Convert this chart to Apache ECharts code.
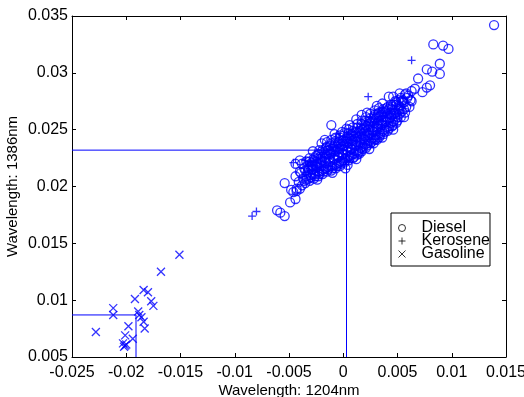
<!DOCTYPE html>
<html>
<head>
<meta charset="utf-8">
<script src="https://cdn.jsdelivr.net/npm/echarts@6/dist/echarts.min.js"></script>
<style>
  html, body { margin: 0; padding: 0; background: #fff; }
  #chart { width: 524px; height: 397px; }
</style>
</head>
<body>
<div id="chart"></div>
<script>
// Absorbance at 1204 nm (x) versus 1386 nm (y) for three fuel classes
const xTickLabels = ['-0.025', '-0.02', '-0.015', '-0.01', '-0.005', '0', '0.005', '0.01', '0.015'];
const yTickLabels = ['0.005', '0.01', '0.015', '0.02', '0.025', '0.03', '0.035'];
const seriesNames = ['Diesel', 'Kerosene', 'Gasoline'];

const dieselPoints = [
  [-0.0043,0.0198],[-0.0041,0.0204],[-0.0044,0.0209],[-0.0040,0.0213],
  [-0.0038,0.0201],[-0.0037,0.0207],[-0.0039,0.0212],[-0.0036,0.0216],[-0.0038,0.0220],
  [-0.0035,0.0203],[-0.0034,0.0209],[-0.0035,0.0214],[-0.0033,0.0218],[-0.0034,0.0222],
  [-0.0031,0.0205],[-0.0030,0.0210],[-0.0032,0.0214],[-0.0030,0.0217],[-0.0029,0.0221],[-0.0031,0.0225],
  [-0.0027,0.0207],[-0.0026,0.0211],[-0.0028,0.0215],[-0.0026,0.0219],[-0.0027,0.0223],[-0.0025,0.0227],
  [-0.0023,0.0209],[-0.0022,0.0213],[-0.0024,0.0217],[-0.0022,0.0220],[-0.0021,0.0224],[-0.0023,0.0228],[-0.0022,0.0232],
  [-0.0019,0.0211],[-0.0018,0.0215],[-0.0020,0.0218],[-0.0017,0.0222],[-0.0019,0.0226],[-0.0018,0.0230],[-0.0016,0.0234],
  [-0.0015,0.0213],[-0.0014,0.0217],[-0.0016,0.0221],[-0.0013,0.0224],[-0.0015,0.0228],[-0.0014,0.0232],[-0.0012,0.0236],[-0.0015,0.0239],
  [-0.0011,0.0214],[-0.0010,0.0218],[-0.0012,0.0222],[-0.0009,0.0225],[-0.0011,0.0229],[-0.0010,0.0233],[-0.0008,0.0237],[-0.0011,0.0241],
  [-0.0007,0.0216],[-0.0006,0.0220],[-0.0008,0.0224],[-0.0005,0.0227],[-0.0007,0.0231],[-0.0006,0.0235],[-0.0004,0.0239],[-0.0007,0.0243],
  [-0.0003,0.0218],[-0.0002,0.0222],[-0.0004,0.0226],[-0.0001,0.0229],[-0.0003,0.0233],[-0.0002,0.0237],[0.0000,0.0241],[-0.0003,0.0245],[-0.0001,0.0248],
  [0.0001,0.0221],[0.0002,0.0225],[0.0000,0.0228],[0.0003,0.0232],[0.0001,0.0236],[0.0002,0.0240],[0.0004,0.0244],[0.0001,0.0247],
  [0.0005,0.0223],[0.0006,0.0227],[0.0004,0.0231],[0.0007,0.0234],[0.0005,0.0238],[0.0006,0.0242],[0.0008,0.0246],[0.0005,0.0250],
  [0.0009,0.0225],[0.0010,0.0229],[0.0008,0.0233],[0.0011,0.0237],[0.0009,0.0240],[0.0010,0.0244],[0.0012,0.0248],[0.0009,0.0252],
  [0.0013,0.0228],[0.0014,0.0232],[0.0012,0.0236],[0.0015,0.0239],[0.0013,0.0243],[0.0014,0.0247],[0.0016,0.0251],[0.0013,0.0255],
  [0.0017,0.0231],[0.0018,0.0235],[0.0016,0.0238],[0.0019,0.0242],[0.0017,0.0246],[0.0018,0.0250],[0.0020,0.0254],[0.0017,0.0258],
  [0.0021,0.0234],[0.0022,0.0238],[0.0020,0.0241],[0.0023,0.0245],[0.0021,0.0249],[0.0022,0.0253],[0.0024,0.0257],[0.0021,0.0261],
  [0.0025,0.0238],[0.0026,0.0242],[0.0024,0.0245],[0.0027,0.0249],[0.0025,0.0253],[0.0026,0.0257],[0.0028,0.0261],[0.0025,0.0264],
  [0.0029,0.0241],[0.0030,0.0245],[0.0028,0.0248],[0.0031,0.0252],[0.0029,0.0256],[0.0030,0.0260],[0.0032,0.0264],[0.0029,0.0267],
  [0.0033,0.0243],[0.0034,0.0247],[0.0032,0.0251],[0.0035,0.0255],[0.0033,0.0258],[0.0034,0.0262],[0.0036,0.0266],[0.0033,0.0269],
  [0.0037,0.0246],[0.0038,0.0250],[0.0036,0.0254],[0.0039,0.0257],[0.0037,0.0261],[0.0038,0.0265],[0.0040,0.0269],
  [0.0041,0.0249],[0.0042,0.0253],[0.0040,0.0257],[0.0043,0.0260],[0.0041,0.0264],[0.0042,0.0268],[0.0044,0.0272],
  [0.0045,0.0253],[0.0046,0.0257],[0.0044,0.0261],[0.0047,0.0264],[0.0045,0.0268],[0.0046,0.0272],[0.0048,0.0275],
  [0.0049,0.0256],[0.0050,0.0261],[0.0048,0.0265],[0.0051,0.0268],[0.0049,0.0272],[0.0051,0.0276],
  [0.0053,0.0261],[0.0054,0.0266],[0.0052,0.0270],[0.0055,0.0274],[0.0053,0.0278],
  [0.0057,0.0265],[0.0058,0.0270],[0.0056,0.0274],[0.0059,0.0278],[0.0057,0.0281],
  [0.0061,0.0270],[0.0062,0.0276],[0.0060,0.0280],
  [-0.0036,0.0205],[-0.0032,0.0207],[-0.0028,0.0211],[-0.0024,0.0213],[-0.0020,0.0214],[-0.0016,0.0216],
  [-0.0012,0.0218],[-0.0008,0.0219],[-0.0004,0.0221],[0.0000,0.0223],[0.0004,0.0226],[0.0008,0.0228],
  [0.0012,0.0231],[0.0016,0.0234],[0.0020,0.0237],[0.0024,0.0240],[0.0028,0.0243],[0.0032,0.0246],
  [0.0036,0.0249],[0.0040,0.0252],[0.0044,0.0256],[0.0048,0.0259],[0.0052,0.0264],[0.0056,0.0268],
  [-0.0033,0.0212],[-0.0029,0.0215],[-0.0025,0.0218],[-0.0021,0.0221],[-0.0017,0.0225],[-0.0013,0.0228],
  [-0.0009,0.0231],[-0.0005,0.0233],[-0.0001,0.0235],[0.0003,0.0238],[0.0007,0.0240],[0.0011,0.0242],
  [0.0015,0.0244],[0.0019,0.0247],[0.0023,0.0250],[0.0027,0.0252],[0.0031,0.0255],[0.0035,0.0258],
  [0.0039,0.0261],[0.0043,0.0265],[0.0047,0.0267],[0.0051,0.0271],[0.0055,0.0276],
  [-0.0029,0.0219],[-0.0025,0.0222],[-0.0021,0.0226],[-0.0017,0.0229],[-0.0013,0.0232],[-0.0009,0.0235],
  [-0.0005,0.0238],[-0.0001,0.0240],[0.0003,0.0242],[0.0007,0.0245],[0.0011,0.0247],[0.0015,0.0249],
  [0.0019,0.0252],[0.0023,0.0255],[0.0027,0.0258],[0.0031,0.0261],[0.0035,0.0263],[0.0039,0.0266],
  [-0.0034,0.0206],[-0.0030,0.0208],[-0.0026,0.0209],[-0.0022,0.0211],[-0.0018,0.0213],[-0.0014,0.0215],
  [-0.0010,0.0216],[-0.0006,0.0218],[-0.0002,0.0220],[0.0002,0.0223],[0.0006,0.0225],[0.0010,0.0226],
  [0.0014,0.0230],[0.0018,0.0233],[0.0022,0.0236],[0.0026,0.0239],[0.0030,0.0242],[0.0034,0.0245],
  [0.0038,0.0248],[0.0042,0.0251],[0.0046,0.0254],[0.0050,0.0258],
  [-0.0031,0.0222],[-0.0027,0.0225],[-0.0023,0.0229],[-0.0019,0.0232],[-0.0015,0.0235],[-0.0011,0.0238],
  [-0.0007,0.0240],[-0.0003,0.0243],[0.0001,0.0245],[0.0005,0.0247],[0.0009,0.0249],[0.0013,0.0252],
  [0.0017,0.0255],[0.0021,0.0258],[0.0025,0.0260],[0.0029,0.0263],[0.0033,0.0265],[0.0037,0.0268],
  [0.0041,0.0270],[0.0045,0.0270],[0.0049,0.0274],
  [-0.0032,0.0216],[-0.0028,0.0218],[-0.0024,0.0220],[-0.0020,0.0223],[-0.0016,0.0226],[-0.0012,0.0230],
  [-0.0008,0.0227],[-0.0004,0.0230],[0.0000,0.0232],[0.0004,0.0235],[0.0008,0.0237],[0.0012,0.0239],
  [0.0016,0.0241],[0.0020,0.0244],[0.0024,0.0247],[0.0028,0.0250],[0.0032,0.0253],[0.0036,0.0256],
  [0.0040,0.0259],[0.0044,0.0263],[0.0048,0.0262],[0.0052,0.0267],
  [-0.0024,0.0206],[-0.0010,0.0212],[0.0002,0.0216],[0.0012,0.0224],[0.0024,0.0233],[0.0036,0.0243],
  [0.0046,0.0250],[0.0056,0.0261],[-0.0040,0.0223],[-0.0028,0.0231],[-0.0020,0.0238],[-0.0008,0.0246],
  [0.0006,0.0254],[0.0012,0.0259],[0.0022,0.0265],[0.0036,0.0273],[0.0046,0.0279],[0.0052,0.0282],
  [0.0139,0.0342],[0.0083,0.0325],[0.0092,0.0324],[0.0097,0.0321],[0.0089,0.0308],
  [0.0077,0.0303],[0.0082,0.0301],[0.0089,0.0299],[0.0069,0.0295],[0.0080,0.0289],
  [0.0077,0.0287],[0.0073,0.0283],[0.0066,0.0286],[0.0063,0.0284],[0.0058,0.0282],
  [0.0063,0.0275],[0.0054,0.0275],[0.0042,0.0279],[0.0031,0.0271],[-0.0011,0.0254],
  [-0.0054,0.0203],[-0.0044,0.0220],[-0.0017,0.0241],[0.0003,0.0251],[0.0017,0.0263],
  [0.0031,0.0241],[0.0028,0.0238],[0.0015,0.0229],[0.0004,0.0219],
  [-0.0061,0.0179],[-0.0058,0.0177],[-0.0054,0.0174],[-0.0049,0.0186],[-0.0044,0.0189],
  [-0.0046,0.0195],[-0.0043,0.0196],[-0.0048,0.0197],[-0.0040,0.0198]
];

const kerosenePoints = [
  [-0.0084,0.0174],[-0.0080,0.0178],[0.0063,0.0311],[0.0023,0.0279],
  [-0.0046,0.0221],[-0.0035,0.0223],[-0.0030,0.0222],[-0.0032,0.0219],
  [-0.0006,0.0246],[-0.0020,0.0228]
];

const gasolinePoints = [
  [-0.0228,0.0072],[-0.0212,0.0093],[-0.0212,0.0087],[-0.0192,0.0101],
  [-0.0201,0.0069],[-0.0198,0.0077],[-0.0203,0.0062],[-0.0201,0.0060],
  [-0.0202,0.0059],[-0.0200,0.0061],[-0.0194,0.0066],[-0.0189,0.0090],
  [-0.0188,0.0087],[-0.0186,0.0085],[-0.0184,0.0081],[-0.0183,0.0075],
  [-0.0184,0.0109],[-0.0180,0.0107],[-0.0177,0.0099],[-0.0175,0.0095],
  [-0.0168,0.0125],[-0.0151,0.0140]
];

// Class-mean guide lines (drawn from the left/bottom edges to the mean point)
const dieselMeanLine = [[-0.025,0.0232],[0.0003,0.0232],[0.0003,0.005]];
const gasolineMeanLine = [[-0.025,0.0087],[-0.0191,0.0087],[-0.0191,0.005]];

const X_MIN = -0.025, X_MAX = 0.015, Y_MIN = 0.005, Y_MAX = 0.035, STEP = 0.005;
const BLUE = '#0000ff';
const FONT = 'Liberation Sans, Arial, Helvetica, sans-serif';
const PLUS = 'path://M5,0L5,10M0,5L10,5';
const CROSS = 'path://M0,0L10,10M10,0L0,10';

const tickLabel = (labels, min) => v => labels[Math.round((v - min) / STEP)] || '';

const boxAxisX = (show, pos) => ({
  type: 'value', min: X_MIN, max: X_MAX, interval: STEP, position: pos,
  axisLine: { show: true, onZero: false, lineStyle: { color: '#000', width: 1 } },
  axisTick: { show: true, inside: true, length: 4, lineStyle: { color: '#000' } },
  axisLabel: { show: show, margin: 8, color: '#000', fontSize: 16, fontFamily: FONT,
               formatter: tickLabel(xTickLabels, X_MIN) },
  splitLine: { show: false }
});
const boxAxisY = (show, pos) => ({
  type: 'value', min: Y_MIN, max: Y_MAX, interval: STEP, position: pos,
  axisLine: { show: true, onZero: false, lineStyle: { color: '#000', width: 1 } },
  axisTick: { show: true, inside: true, length: 4, lineStyle: { color: '#000' } },
  axisLabel: { show: show, margin: 4, color: '#000', fontSize: 16, fontFamily: FONT,
               formatter: tickLabel(yTickLabels, Y_MIN) },
  splitLine: { show: false }
});

const xBottom = Object.assign(boxAxisX(true, 'bottom'), {
  name: 'Wavelength: 1204nm', nameLocation: 'middle', nameGap: 26, nameMoveOverlap: false,
  nameTextStyle: { color: '#000', fontSize: 15, fontFamily: FONT, verticalAlign: 'top' }
});
const yLeft = Object.assign(boxAxisY(true, 'left'), {
  name: 'Wavelength: 1386nm', nameLocation: 'middle', nameGap: 52, nameMoveOverlap: false,
  nameTextStyle: { color: '#000', fontSize: 15, fontFamily: FONT }
});

const markerStyle = { color: 'transparent', borderColor: BLUE, borderWidth: 1.3 };
const legendIcon = { color: 'transparent', borderColor: '#000', borderWidth: 1 };

const chart = echarts.init(document.getElementById('chart'), null, { renderer: 'canvas' });
chart.setOption({
  backgroundColor: '#fff',
  animation: false,
  grid: { left: 72, right: 18, top: 16, bottom: 40, containLabel: false, outerBoundsMode: 'none' },
  xAxis: [xBottom, boxAxisX(false, 'top')],
  yAxis: [yLeft, boxAxisY(false, 'right')],
  legend: {
    orient: 'vertical', left: 391, top: 213,
    padding: [7, 0, 4, 7],
    borderColor: '#000', borderWidth: 1,
    itemWidth: 7, itemHeight: 7, itemGap: -3,
    textStyle: { color: '#000', fontSize: 16, fontFamily: FONT, padding: [0, 0, 0, 11] },
    data: [
      { name: seriesNames[0], icon: 'circle', itemStyle: legendIcon },
      { name: seriesNames[1], icon: PLUS, itemStyle: legendIcon },
      { name: seriesNames[2], icon: CROSS, itemStyle: legendIcon }
    ]
  },
  series: [
    { name: seriesNames[0], type: 'scatter', data: dieselPoints,
      symbol: 'circle', symbolSize: 9, itemStyle: markerStyle },
    { name: seriesNames[1], type: 'scatter', data: kerosenePoints,
      symbol: PLUS, symbolSize: 8, itemStyle: markerStyle },
    { name: seriesNames[2], type: 'scatter', data: gasolinePoints,
      symbol: CROSS, symbolSize: 8, itemStyle: markerStyle },
    { type: 'line', data: dieselMeanLine, symbol: 'none', silent: true,
      lineStyle: { color: BLUE, width: 1 } },
    { type: 'line', data: gasolineMeanLine, symbol: 'none', silent: true,
      lineStyle: { color: BLUE, width: 1 } }
  ]
});
</script>
</body>
</html>
